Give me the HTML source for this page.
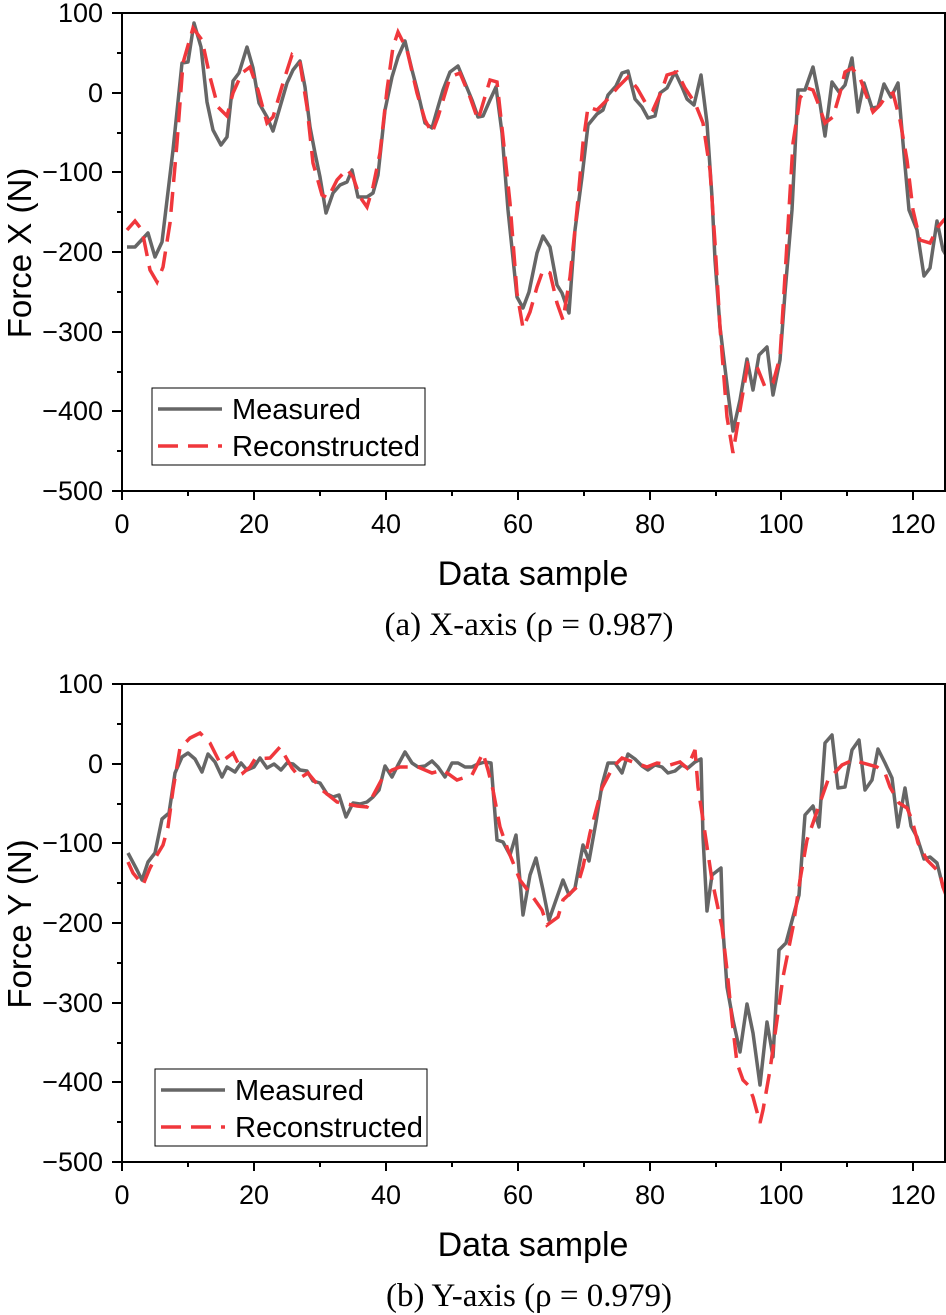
<!DOCTYPE html>
<html><head><meta charset="utf-8"><style>body{margin:0;background:#fff}svg{display:block}</style></head>
<body>
<svg width="946" height="1315" xmlns="http://www.w3.org/2000/svg" font-family="Liberation Sans, sans-serif">
<defs>
<g id="xt" stroke="#000" stroke-width="2">
<path d="M122 0v9M188 0v5M254 0v9M320 0v5M386 0v9M452 0v5M518 0v9M584 0v5M650 0v9M716 0v5M781 0v9M847 0v5M913 0v9"/>
</g>
</defs>
<!-- Panel A -->
<g>
<g stroke="#000" stroke-width="2">
<path d="M122 13v478M122 13h-10M122 53h-5M122 93h-10M122 133h-5M122 172h-10M122 212h-5M122 252h-10M122 292h-5M122 332h-10M122 372h-5M122 411h-10M122 451h-5M122 491h-10"/>
</g>
<use href="#xt" y="491"/>
<g font-size="27" text-anchor="end">
<text x="103" y="22">100</text><text x="103" y="102">0</text><text x="103" y="181">−100</text><text x="103" y="261">−200</text><text x="103" y="341">−300</text><text x="103" y="420">−400</text><text x="103" y="500">−500</text>
</g>
<g font-size="27" text-anchor="middle">
<text x="122" y="533">0</text><text x="254" y="533">20</text><text x="386" y="533">40</text><text x="518" y="533">60</text><text x="650" y="533">80</text><text x="781" y="533">100</text><text x="913" y="533">120</text>
</g>
<text x="533" y="585" font-size="34" text-anchor="middle">Data sample</text>
<text transform="translate(31,253) rotate(-90)" font-size="33" text-anchor="middle">Force X (N)</text>
<text x="529" y="635" font-size="33" text-anchor="middle" font-family="Liberation Serif, serif">(a) X-axis (ρ = 0.987)</text>
<svg x="122" y="13" width="823" height="478" viewBox="122 13 823 478" overflow="hidden">
<polyline fill="none" stroke="#666" stroke-width="3.5" stroke-linejoin="round" points="127,247 135,247 148,233 155,257 162,242 173,150 182,63 188,62 194,23 201,47 207,102 213,130 221,145 227,137 233,81 239,73 247,47 253,68 259,103 267,117 273,131 280,107 287,83 293,70 300,61 305,87 310,127 315,153 320,177 326,213 333,193 340,185 347,182 352,170 358,197 367,197 373,193 378,175 385,110 392,77 398,57 405,41 412,70 418,93 425,123 432,128 438,107 443,90 450,72 458,66 465,83 472,100 478,117 483,116 490,100 496,87 502,133 508,210 517,297 523,308 529,292 537,253 543,236 550,247 557,285 562,293 569,313 575,230 582,177 588,125 597,114 603,110 608,95 616,86 622,73 628,71 635,99 642,107 648,118 655,116 660,93 667,88 675,72 682,87 687,99 694,105 701,75 707,123 712,197 715,260 720,327 728,393 733,431 740,400 747,359 753,390 759,355 767,347 773,395 780,360 785,293 792,210 798,90 805,90 813,67 819,97 825,136 832,82 839,92 845,85 852,58 858,112 864,83 872,108 878,107 884,84 891,97 898,83 903,143 909,210 917,230 924,276 930,268 937,221 943,250 946,255"/>
<polyline fill="none" stroke="#f0373c" stroke-width="3.5" stroke-dasharray="20,10" points="127,230 135,221 142,230 150,270 157,282 163,267 170,223 177,143 183,63 193,28 202,40 210,77 218,107 227,116 233,93 242,73 250,67 258,90 267,123 273,117 283,83 292,55 300,63 307,107 313,163 322,195 328,198 337,180 347,169 353,177 360,197 367,207 373,187 380,153 387,90 393,47 398,32 407,50 417,93 425,120 432,133 438,117 450,77 460,73 470,97 478,120 490,80 497,82 503,137 510,203 517,293 523,328 530,312 537,287 543,270 550,273 557,303 563,320 570,277 577,210 583,143 588,107 597,110 607,100 618,87 628,77 637,88 645,102 653,110 662,90 667,75 677,72 685,88 695,103 703,123 710,170 715,243 720,327 727,417 733,453 740,410 748,363 757,367 765,387 773,383 780,357 787,243 793,143 800,98 807,88 813,90 818,103 825,123 833,117 840,93 845,72 852,68 860,78 867,97 873,112 880,105 887,95 893,93 900,120 907,160 913,210 920,240 930,243 938,227 943,221 946,218"/>
</svg>
<rect x="122" y="13" width="823" height="478" fill="none" stroke="#000" stroke-width="2"/>
<rect x="152" y="388" width="273" height="77" fill="#fff" stroke="#000" stroke-width="1"/>
<line x1="158" y1="409" x2="222" y2="409" stroke="#666" stroke-width="3.5"/>
<line x1="158" y1="446" x2="222" y2="446" stroke="#f0373c" stroke-width="3.5" stroke-dasharray="20,10"/>
<text x="232" y="419" font-size="29" textLength="129" lengthAdjust="spacingAndGlyphs">Measured</text>
<text x="232" y="456" font-size="29" textLength="188" lengthAdjust="spacingAndGlyphs">Reconstructed</text>
</g>
<!-- Panel B -->
<g>
<g stroke="#000" stroke-width="2">
<path d="M122 684v478M122 684h-10M122 724h-5M122 764h-10M122 804h-5M122 843h-10M122 883h-5M122 923h-10M122 963h-5M122 1003h-10M122 1043h-5M122 1082h-10M122 1122h-5M122 1162h-10"/>
</g>
<use href="#xt" y="1162"/>
<g font-size="27" text-anchor="end">
<text x="103" y="693">100</text><text x="103" y="773">0</text><text x="103" y="852">−100</text><text x="103" y="932">−200</text><text x="103" y="1012">−300</text><text x="103" y="1091">−400</text><text x="103" y="1171">−500</text>
</g>
<g font-size="27" text-anchor="middle">
<text x="122" y="1204">0</text><text x="254" y="1204">20</text><text x="386" y="1204">40</text><text x="518" y="1204">60</text><text x="650" y="1204">80</text><text x="781" y="1204">100</text><text x="913" y="1204">120</text>
</g>
<text x="533" y="1256" font-size="34" text-anchor="middle">Data sample</text>
<text transform="translate(31,924) rotate(-90)" font-size="33" text-anchor="middle">Force Y (N)</text>
<text x="529" y="1306" font-size="33" text-anchor="middle" font-family="Liberation Serif, serif">(b) Y-axis (ρ = 0.979)</text>
<svg x="122" y="684" width="823" height="478" viewBox="122 684 823 478" overflow="hidden">
<polyline fill="none" stroke="#666" stroke-width="3.5" stroke-linejoin="round" points="128,853 137,870 142,880 148,862 155,853 162,819 169,813 175,773 182,757 188,753 195,759 202,772 208,754 215,762 222,777 227,767 235,772 241,763 247,770 254,767 260,758 267,768 274,764 281,770 287,763 293,764 300,770 307,771 313,781 320,783 327,794 333,797 339,795 346,817 353,803 360,804 367,802 373,797 379,790 385,766 392,777 398,765 405,752 412,763 418,767 425,766 432,761 438,767 445,777 452,763 458,763 465,767 472,767 478,764 485,762 491,763 497,840 503,842 510,855 516,835 523,915 530,875 536,858 543,890 549,920 556,900 563,880 569,895 575,888 583,845 589,861 596,822 602,785 608,763 615,763 622,773 628,754 635,759 642,766 648,770 655,765 662,767 668,773 675,771 682,765 688,768 695,762 701,759 703,837 707,911 712,875 721,868 723,930 727,987 733,1020 740,1052 747,1004 753,1033 760,1085 767,1022 773,1057 779,950 786,943 793,917 799,895 805,815 813,806 819,827 825,743 832,735 838,788 845,787 852,750 859,740 865,790 872,780 878,749 885,763 892,778 898,827 905,788 911,826 917,837 924,859 930,857 937,863 943,887 946,893"/>
<polyline fill="none" stroke="#f0373c" stroke-width="3.5" stroke-dasharray="20,10" points="128,862 133,873 143,885 150,868 157,855 163,845 168,827 173,790 180,748 190,738 200,733 210,743 220,763 233,753 243,773 250,767 255,759 270,758 280,747 292,768 300,778 308,773 322,790 337,802 357,806 367,807 383,777 392,770 400,767 418,767 432,773 443,770 457,780 472,775 483,753 488,770 493,790 500,827 508,850 520,880 535,900 542,910 547,925 558,917 563,900 577,887 583,867 590,833 602,788 613,767 622,758 633,762 647,767 657,763 670,765 680,762 687,768 695,750 698,787 703,820 712,880 722,927 727,970 732,1020 737,1063 743,1080 748,1085 753,1097 760,1123 763,1110 770,1070 777,1020 783,977 793,927 800,880 807,840 813,823 822,797 828,780 842,765 853,760 863,763 877,767 885,773 890,787 899,803 907,808 912,820 918,843 927,860 940,873 943,887 946,895"/>
</svg>
<rect x="122" y="684" width="823" height="478" fill="none" stroke="#000" stroke-width="2"/>
<rect x="155" y="1069" width="272" height="77" fill="#fff" stroke="#000" stroke-width="1"/>
<line x1="161" y1="1090" x2="225" y2="1090" stroke="#666" stroke-width="3.5"/>
<line x1="161" y1="1127" x2="225" y2="1127" stroke="#f0373c" stroke-width="3.5" stroke-dasharray="20,10"/>
<text x="235" y="1100" font-size="29" textLength="129" lengthAdjust="spacingAndGlyphs">Measured</text>
<text x="235" y="1137" font-size="29" textLength="188" lengthAdjust="spacingAndGlyphs">Reconstructed</text>
</g>
</svg>
</body></html>
